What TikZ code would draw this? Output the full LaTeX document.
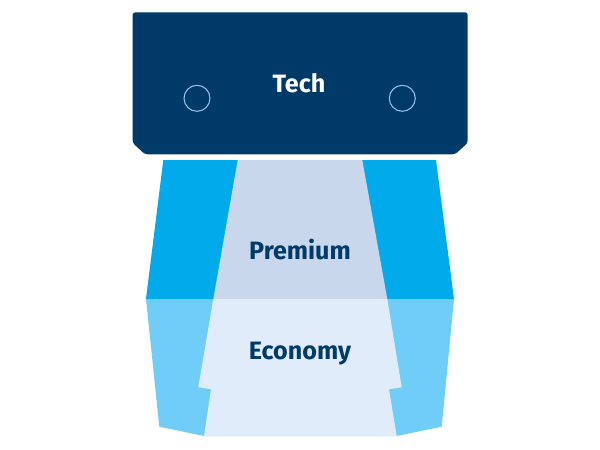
\documentclass[tikz,border=0pt]{standalone}
\usepackage{fontspec}
\setmainfont{Fira Sans}
\definecolor{navyfill}{RGB}{0,58,105}
\definecolor{skyfill}{RGB}{0,170,235}
\definecolor{lightskyfill}{RGB}{112,205,248}
\definecolor{premiumfill}{RGB}{200,215,235}
\definecolor{economyfill}{RGB}{224,236,250}
\definecolor{ringline}{RGB}{150,195,235}
\tikzset{
    tierlabel/.style={font=\fontsize{14.3}{17}\selectfont\bfseries, text=navyfill},
    ring/.style={draw=ringline, line width=0.6pt}
}
\begin{document}
\begin{tikzpicture}[x=0.02cm, y=-0.02cm]
    \useasboundingbox (0,0) rectangle (600,450);
    % premium band
    \fill[fill=skyfill] (163.3,160) -- (436,160) -- (454,299) -- (146,299) -- cycle;
    \fill[fill=premiumfill] (237.7,160) -- (362.3,160) -- (387.3,299) -- (213.3,299) -- cycle;
    % economy band
    \fill[fill=lightskyfill] (146,299) -- (454,299) -- (441.7,426.7) -- (396.7,436) -- (204,436) -- (159.3,426.7) -- cycle;
    \fill[fill=economyfill] (213.3,299) -- (387.3,299) -- (401.7,387.3) -- (389,389.3) -- (396.7,436) -- (204,436) -- (211,389.3) -- (198.3,387.3) -- cycle;
    % tech box
    \fill[fill=navyfill, rounded corners=1.5pt] (132.7,12.3) -- (467.7,12.3) -- (467.7,143) -- (455,154.3) -- (145,154.3) -- (132.7,143) -- cycle;
    \draw[ring] (197,98.3) circle [radius=0.26cm];
    \draw[ring] (402.3,98.3) circle [radius=0.26cm];
    \node[tierlabel, text=white] (tech) at (299,83) {Tech};
    \node[tierlabel] (premium) at (300,250) {Premium};
    \node[tierlabel] (economy) at (300,353.3) {Economy};
\end{tikzpicture}
\end{document}
